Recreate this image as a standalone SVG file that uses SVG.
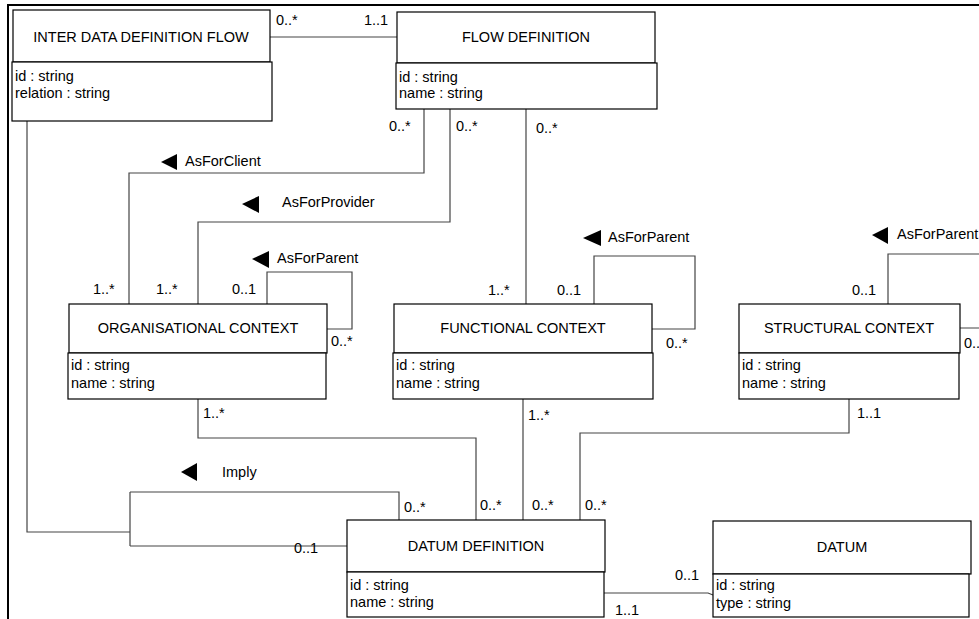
<svg xmlns="http://www.w3.org/2000/svg" width="979" height="619" viewBox="0 0 979 619">
<style>
text{font-family:"Liberation Sans",Arial,sans-serif;font-size:14.5px;fill:#000}
.t{text-anchor:middle}
.box{fill:#fff;stroke:#000;stroke-width:1.2}
.c{fill:none;stroke:#444;stroke-width:1.2}
.frame{fill:none;stroke:#000;stroke-width:2}
.tri{fill:#000}
</style>
<rect width="979" height="619" fill="#fff"/>
<path class="frame" d="M8,619 V5 H979"/>

<g id="connectors">
<path class="c" d="M270,37 H397"/>
<path class="c" d="M424,109 V173 H129 V304"/>
<path class="c" d="M450,109 V222 H198 V304"/>
<path class="c" d="M526,109 V304"/>
<path class="c" d="M267,304 V272 H352 V329 H327"/>
<path class="c" d="M594,304 V256 H695 V329 H652"/>
<path class="c" d="M888,304 V254 H985 M985,328 H960"/>
<path class="c" d="M198,399 V438 H476 V520"/>
<path class="c" d="M523,399 V520"/>
<path class="c" d="M849,399 V433 H580 V520"/>
<path class="c" d="M27,121 V532 H130 M130,492 V546 M130,492 H399 V520 M130,546 H347"/>
<path class="c" d="M604,593 H708 L713,595"/>
<polygon class="tri" points="161,162 177,154 177,170"/>
<polygon class="tri" points="242,204 259,196 259,213"/>
<polygon class="tri" points="252,259 269,251 269,268"/>
<polygon class="tri" points="583,238 601,230 601,246"/>
<polygon class="tri" points="872,235 888,227 888,244"/>
<polygon class="tri" points="181,472 197,463 197,481"/>
<text x="185" y="166">AsForClient</text>
<text x="282" y="207">AsForProvider</text>
<text x="277" y="263">AsForParent</text>
<text x="608" y="242">AsForParent</text>
<text x="897" y="239">AsForParent</text>
<text x="222" y="477">Imply</text>
<text x="276" y="25">0..*</text>
<text x="364" y="25">1..1</text>
<text x="389" y="131">0..*</text>
<text x="456" y="131">0..*</text>
<text x="536" y="133">0..*</text>
<text x="93" y="294">1..*</text>
<text x="156" y="294">1..*</text>
<text x="232" y="294">0..1</text>
<text x="331" y="346">0..*</text>
<text x="488" y="295">1..*</text>
<text x="557" y="295">0..1</text>
<text x="666" y="348">0..*</text>
<text x="852" y="295">0..1</text>
<text x="964" y="348">0..*</text>
<text x="203" y="418">1..*</text>
<text x="528" y="420">1..*</text>
<text x="857" y="418">1..1</text>
<text x="404" y="512">0..*</text>
<text x="480" y="510">0..*</text>
<text x="532" y="510">0..*</text>
<text x="585" y="510">0..*</text>
<text x="294" y="553">0..1</text>
<text x="675" y="580">0..1</text>
<text x="615" y="615">1..1</text>
</g>

<g id="inter-data-definition-flow">
<rect class="box" x="13" y="10" width="257" height="52"/>
<rect class="box" x="12" y="62" width="260" height="59"/>
<text class="t" x="141" y="42">INTER DATA DEFINITION FLOW</text>
<text x="15" y="81">id : string</text>
<text x="15" y="98">relation : string</text>
</g>

<g id="flow-definition">
<rect class="box" x="397" y="12" width="258" height="51"/>
<rect class="box" x="396" y="63" width="261" height="46"/>
<text class="t" x="526" y="42">FLOW DEFINITION</text>
<text x="399" y="82">id : string</text>
<text x="399" y="98">name : string</text>
</g>

<g id="organisational-context">
<rect class="box" x="69" y="304" width="258" height="49"/>
<rect class="box" x="68" y="353" width="258" height="46"/>
<text class="t" x="198" y="333">ORGANISATIONAL CONTEXT</text>
<text x="71" y="370">id : string</text>
<text x="71" y="388">name : string</text>
</g>

<g id="functional-context">
<rect class="box" x="394" y="304" width="258" height="49"/>
<rect class="box" x="393" y="353" width="260" height="46"/>
<text class="t" x="523" y="333">FUNCTIONAL CONTEXT</text>
<text x="396" y="370">id : string</text>
<text x="396" y="388">name : string</text>
</g>

<g id="structural-context">
<rect class="box" x="739" y="304" width="221" height="49"/>
<rect class="box" x="739" y="353" width="220" height="46"/>
<text class="t" x="849" y="333">STRUCTURAL CONTEXT</text>
<text x="742" y="370">id : string</text>
<text x="742" y="388">name : string</text>
</g>

<g id="datum-definition">
<rect class="box" x="347" y="520" width="258" height="52"/>
<rect class="box" x="347" y="572" width="257" height="45"/>
<text class="t" x="476" y="551">DATUM DEFINITION</text>
<text x="350" y="590">id : string</text>
<text x="350" y="607">name : string</text>
</g>

<g id="datum">
<rect class="box" x="713" y="521" width="258" height="53"/>
<rect class="box" x="713" y="574" width="256" height="43"/>
<text class="t" x="842" y="552">DATUM</text>
<text x="716" y="590">id : string</text>
<text x="716" y="608">type : string</text>
</g>
</svg>
